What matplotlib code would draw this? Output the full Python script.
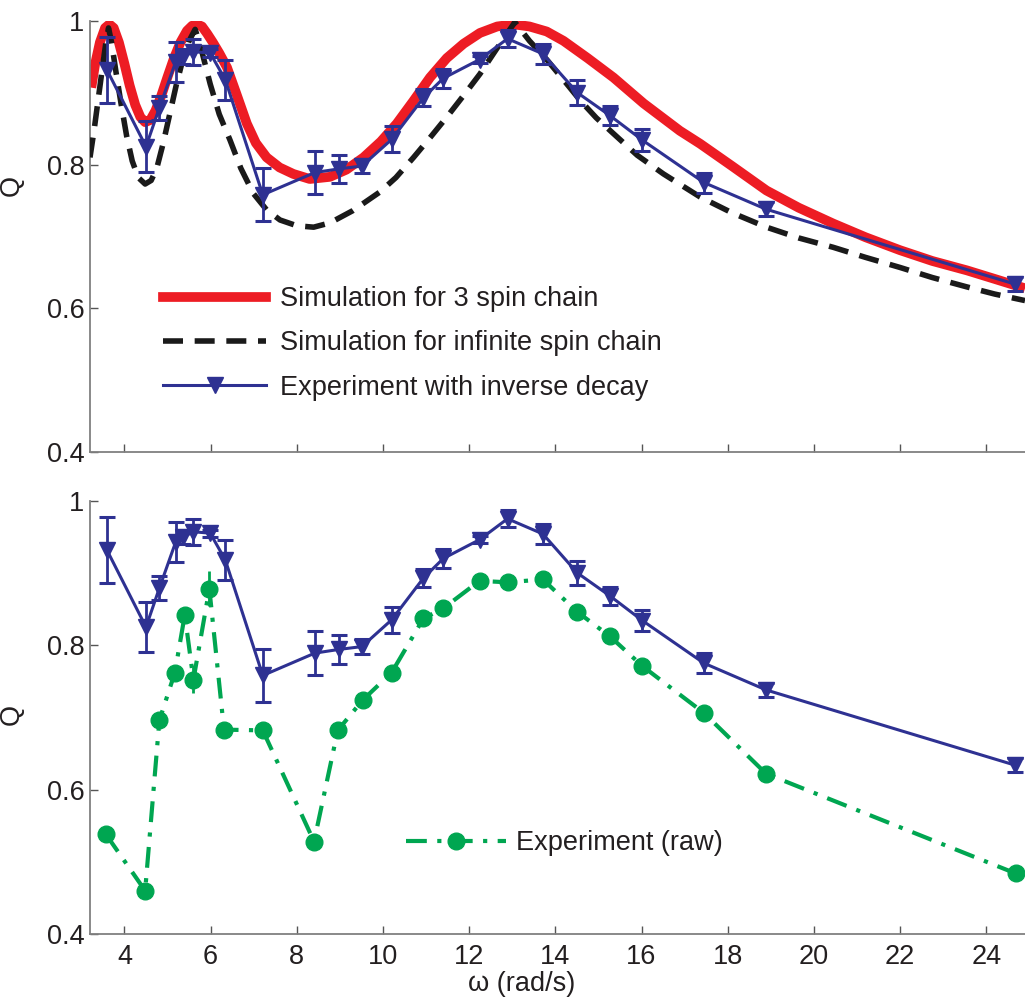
import numpy as np
import matplotlib
matplotlib.use("Agg")
import matplotlib.pyplot as plt
from matplotlib.lines import Line2D

plt.rcParams['font.family'] = ['Liberation Sans', 'DejaVu Sans']

# simulation, 3 spin chain
sim3_w = [3.23, 3.32, 3.43, 3.55, 3.65, 3.75, 3.87, 4.00, 4.12, 4.25, 4.37, 4.48,
          4.60, 4.72, 4.85, 5.00, 5.15, 5.30, 5.45, 5.57, 5.68, 5.80, 5.92, 6.05,
          6.20, 6.38, 6.60, 6.84, 7.05, 7.30, 7.60, 7.92, 8.30, 8.77, 9.15, 9.55,
          9.95, 10.32, 10.70, 11.09, 11.48, 11.87, 12.25, 12.65, 13.03, 13.40, 13.80,
          14.19, 14.75, 15.35, 16.05, 16.89, 17.36, 18.10, 18.90, 19.65, 20.45, 21.20,
          22.00, 22.75, 23.55, 24.20, 24.90]
sim3_q = [0.907, 0.940, 0.970, 0.990, 0.995, 0.990, 0.970, 0.940, 0.910, 0.883, 0.866, 0.859,
          0.862, 0.875, 0.895, 0.922, 0.948, 0.970, 0.986, 0.993, 0.995, 0.992, 0.982, 0.970,
          0.955, 0.935, 0.898, 0.857, 0.830, 0.810, 0.796, 0.787, 0.780, 0.783, 0.793, 0.810,
          0.832, 0.857, 0.888, 0.921, 0.948, 0.968, 0.983, 0.992, 0.995, 0.992, 0.985,
          0.972, 0.948, 0.921, 0.885, 0.847, 0.829, 0.798, 0.764, 0.740, 0.718, 0.699,
          0.681, 0.666, 0.653, 0.641, 0.628]

# simulation, infinite spin chain
siminf_w = [3.20, 3.30, 3.40, 3.50, 3.57, 3.63, 3.70, 3.80, 3.92, 4.05, 4.18, 4.32,
            4.48, 4.62, 4.75, 4.90, 5.05, 5.20, 5.35, 5.50, 5.64, 5.75, 5.87, 5.99,
            6.20, 6.45, 6.70, 6.99, 7.30, 7.61, 8.00, 8.39, 8.77, 9.30, 9.93, 10.30,
            10.71, 11.10, 11.48, 11.87, 12.25, 12.65, 13.06, 13.40, 13.80, 14.20, 14.58,
            14.95, 15.35, 15.90, 16.51, 17.36, 18.10, 18.90, 19.65, 20.45, 21.20, 22.00,
            22.75, 23.55, 24.20, 24.90]
siminf_q = [0.810, 0.850, 0.895, 0.940, 0.970, 0.990, 0.970, 0.930, 0.885, 0.840, 0.805, 0.782,
            0.773, 0.778, 0.795, 0.830, 0.870, 0.910, 0.945, 0.972, 0.988, 0.968, 0.940, 0.912,
            0.870, 0.834, 0.795, 0.760, 0.737, 0.723, 0.715, 0.713, 0.719, 0.736, 0.762, 0.782,
            0.810, 0.838, 0.866, 0.896, 0.926, 0.962, 0.998, 0.972, 0.946, 0.917, 0.889,
            0.865, 0.843, 0.813, 0.787, 0.755, 0.733, 0.713, 0.698, 0.685, 0.671, 0.657,
            0.643, 0.630, 0.620, 0.611]

# experiment with inverse decay
exp_w = [3.59, 4.50, 4.81, 5.19, 5.37, 5.60, 5.99, 6.34, 7.21, 8.42, 8.97, 9.51,
         10.20, 10.94, 11.40, 12.24, 12.89, 13.71, 14.51, 15.27, 16.02, 17.45, 18.89, 24.66]
exp_q = [0.932, 0.825, 0.879, 0.943, 0.950, 0.957, 0.955, 0.918, 0.758, 0.789, 0.794, 0.798,
         0.835, 0.893, 0.920, 0.946, 0.975, 0.954, 0.900, 0.868, 0.834, 0.775, 0.738, 0.634]
exp_err = [0.046, 0.035, 0.017, 0.028, 0.010, 0.018, 0.005, 0.028, 0.037, 0.030, 0.020, 0.010,
           0.018, 0.012, 0.013, 0.005, 0.012, 0.014, 0.017, 0.013, 0.015, 0.014, 0.010, 0.010]

# experiment raw
raw_w = [3.57, 4.48, 4.81, 5.17, 5.40, 5.60, 5.97, 6.31, 7.21, 8.40, 8.95, 9.53,
         10.20, 10.94, 11.40, 12.24, 12.89, 13.71, 14.51, 15.27, 16.02, 17.45, 18.89, 24.68]
raw_q = [0.538, 0.460, 0.696, 0.762, 0.842, 0.752, 0.878, 0.683, 0.682, 0.528, 0.682, 0.724,
         0.762, 0.837, 0.851, 0.889, 0.887, 0.891, 0.846, 0.812, 0.771, 0.706, 0.622, 0.484]
raw_err = [0, 0.008, 0, 0.008, 0.010, 0.018, 0.024, 0, 0, 0, 0, 0,
           0, 0, 0, 0, 0, 0, 0, 0, 0, 0, 0, 0]

red = '#ed1c24'
blk = '#1a1a1a'
blue = '#2e3192'
green = '#00a651'
txt = '#231f20'
spine_c = '#808080'
fs = 19.5

fig = plt.figure(figsize=(10.25, 10.01), dpi=100)
ax1 = fig.add_axes([0.0878, 0.5481, 0.9122, 0.4312])
ax2 = fig.add_axes([0.0878, 0.0669, 0.9122, 0.4329])


def style(ax, labels, qy):
    ax.set_xlim(3.2, 24.9)
    ax.set_ylim(0.4, 1.0)
    ax.set_yticks([0.4, 0.6, 0.8, 1.0])
    ax.set_yticklabels(['0.4', '0.6', '0.8', '1'])
    ax.set_xticks(range(4, 25, 2))
    if not labels:
        ax.set_xticklabels([])
    for s in ['top', 'right']:
        ax.spines[s].set_visible(False)
    for s in ['left', 'bottom']:
        ax.spines[s].set_color(spine_c)
        ax.spines[s].set_linewidth(1.3)
    ax.tick_params(direction='in', length=6, width=1, color='#555555',
                   labelsize=fs, labelcolor=txt, pad=4)
    ax.tick_params(axis='x', pad=7)
    ax.set_ylabel('Q', fontsize=fs, color=txt)
    ax.yaxis.set_label_coords(-0.070, qy)


style(ax1, False, 0.619)
style(ax2, True, 0.506)

# top panel
ax1.plot(sim3_w, sim3_q, color=red, lw=7, solid_capstyle='butt', zorder=2)
ax1.plot(siminf_w, siminf_q, color=blk, lw=4, linestyle=(0, (3.6, 2.1)), zorder=3)
ax1.errorbar(exp_w, exp_q, yerr=exp_err, color=blue, lw=2.2, marker='v', ms=11,
             capsize=6, capthick=2.2, elinewidth=2, zorder=4)

handles = [Line2D([], [], color=red, lw=7),
           Line2D([], [], color=blk, lw=4, linestyle=(0, (3.6, 2.1))),
           Line2D([], [], color=blue, lw=2.2, marker='v', ms=11)]
ax1.legend(handles, ['Simulation for 3 spin chain', 'Simulation for infinite spin chain',
                     'Experiment with inverse decay'],
           loc='upper left', bbox_to_anchor=(0.067, 0.41), frameon=False, fontsize=fs,
           handlelength=3.8, handletextpad=0.5, labelspacing=0.67, borderaxespad=0,
           labelcolor=txt)

# bottom panel
ax2.errorbar(exp_w, exp_q, yerr=exp_err, color=blue, lw=2.2, marker='v', ms=11,
             capsize=6, capthick=2.2, elinewidth=2, zorder=3)
ax2.errorbar(raw_w, raw_q, yerr=raw_err, color=green, lw=3, marker='o', ms=12,
             linestyle=(0, (5, 2.5, 1, 2.5)), elinewidth=2, capsize=0, zorder=4)

gh = Line2D([], [], color=green, lw=3, marker='o', ms=12, linestyle=(0, (5, 2.5, 1, 2.5)))
ax2.legend([gh], ['Experiment (raw)'], loc='upper left', bbox_to_anchor=(0.3265, 0.264),
           frameon=False, fontsize=fs, handlelength=3.7, handletextpad=0.37,
           borderaxespad=0, labelcolor=txt)

ax2.set_xlabel('ω (rad/s)', fontsize=fs, color=txt)
ax2.xaxis.set_label_coords(0.462, -0.085)

fig.savefig('out.png', dpi=100)
